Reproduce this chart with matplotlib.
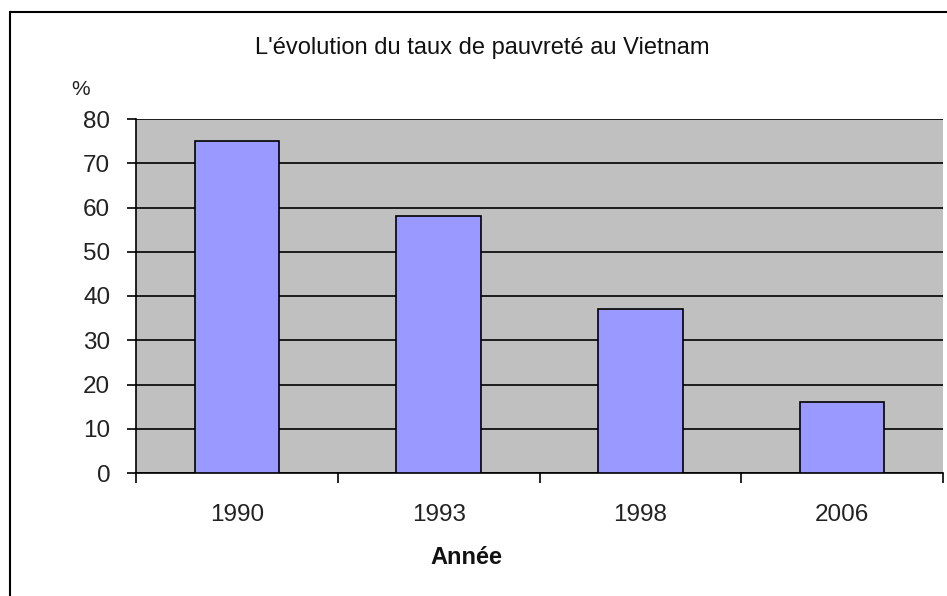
import matplotlib
matplotlib.use('Agg')
import matplotlib.pyplot as plt
from matplotlib.patches import Rectangle

# données
years = ['1990', '1993', '1998', '2006']
taux = [75, 58, 37, 16]
yticks = [0, 10, 20, 30, 40, 50, 60, 70, 80]

plt.rcParams['font.family'] = ['Liberation Sans', 'DejaVu Sans']

fig = plt.figure(figsize=(9.47, 5.96), dpi=100)
# cadre extérieur
fig.patches.append(Rectangle((10 / 947, -0.1), 1.2, (596 - 12) / 596 + 0.1,
                             transform=fig.transFigure, fill=False,
                             edgecolor='black', linewidth=1.5))

ax = fig.add_axes([136 / 947, 123 / 596, 807 / 947, 354 / 596])
ax.set_facecolor('#C0C0C0')

x = list(range(len(years)))
ax.bar(x, taux, width=0.42, color='#9999FF', edgecolor='black', linewidth=1.2, zorder=3)

ax.set_xlim(-0.5, len(years) - 0.5)
ax.set_ylim(0, 80)
ax.set_yticks(yticks)
ax.yaxis.grid(True, color='black', linewidth=1.2, zorder=1)
ax.set_axisbelow(True)

ax.set_xticks(x)
ax.set_xticklabels(years, fontsize=17.5, color='#222222')
ax.tick_params(axis='x', length=0, pad=22)
ax.set_xticks([i - 0.5 for i in range(len(years) + 1)], minor=True)
ax.tick_params(axis='x', which='minor', length=7, width=1.2, direction='out')
ax.tick_params(axis='y', labelsize=17.5, labelcolor='#222222', length=6.5, width=1.2,
               direction='out', pad=12)

for side in ['top', 'right']:
    ax.spines[side].set_visible(False)
ax.spines['left'].set_linewidth(1.2)
ax.spines['bottom'].set_linewidth(1.2)

fig.text(482 / 947, 1 - 54 / 596, "L'évolution du taux de pauvreté au Vietnam",
         ha='center', va='baseline', fontsize=17, color='#111111')
fig.text(81 / 947, 1 - 95 / 596, '%', ha='center', va='baseline', fontsize=15,
         color='#222222')
fig.text(466 / 947, 1 - 564 / 596, 'Année', ha='center', va='baseline',
         fontsize=17, fontweight='bold', color='#111111')

fig.savefig('out.png', dpi=100)
